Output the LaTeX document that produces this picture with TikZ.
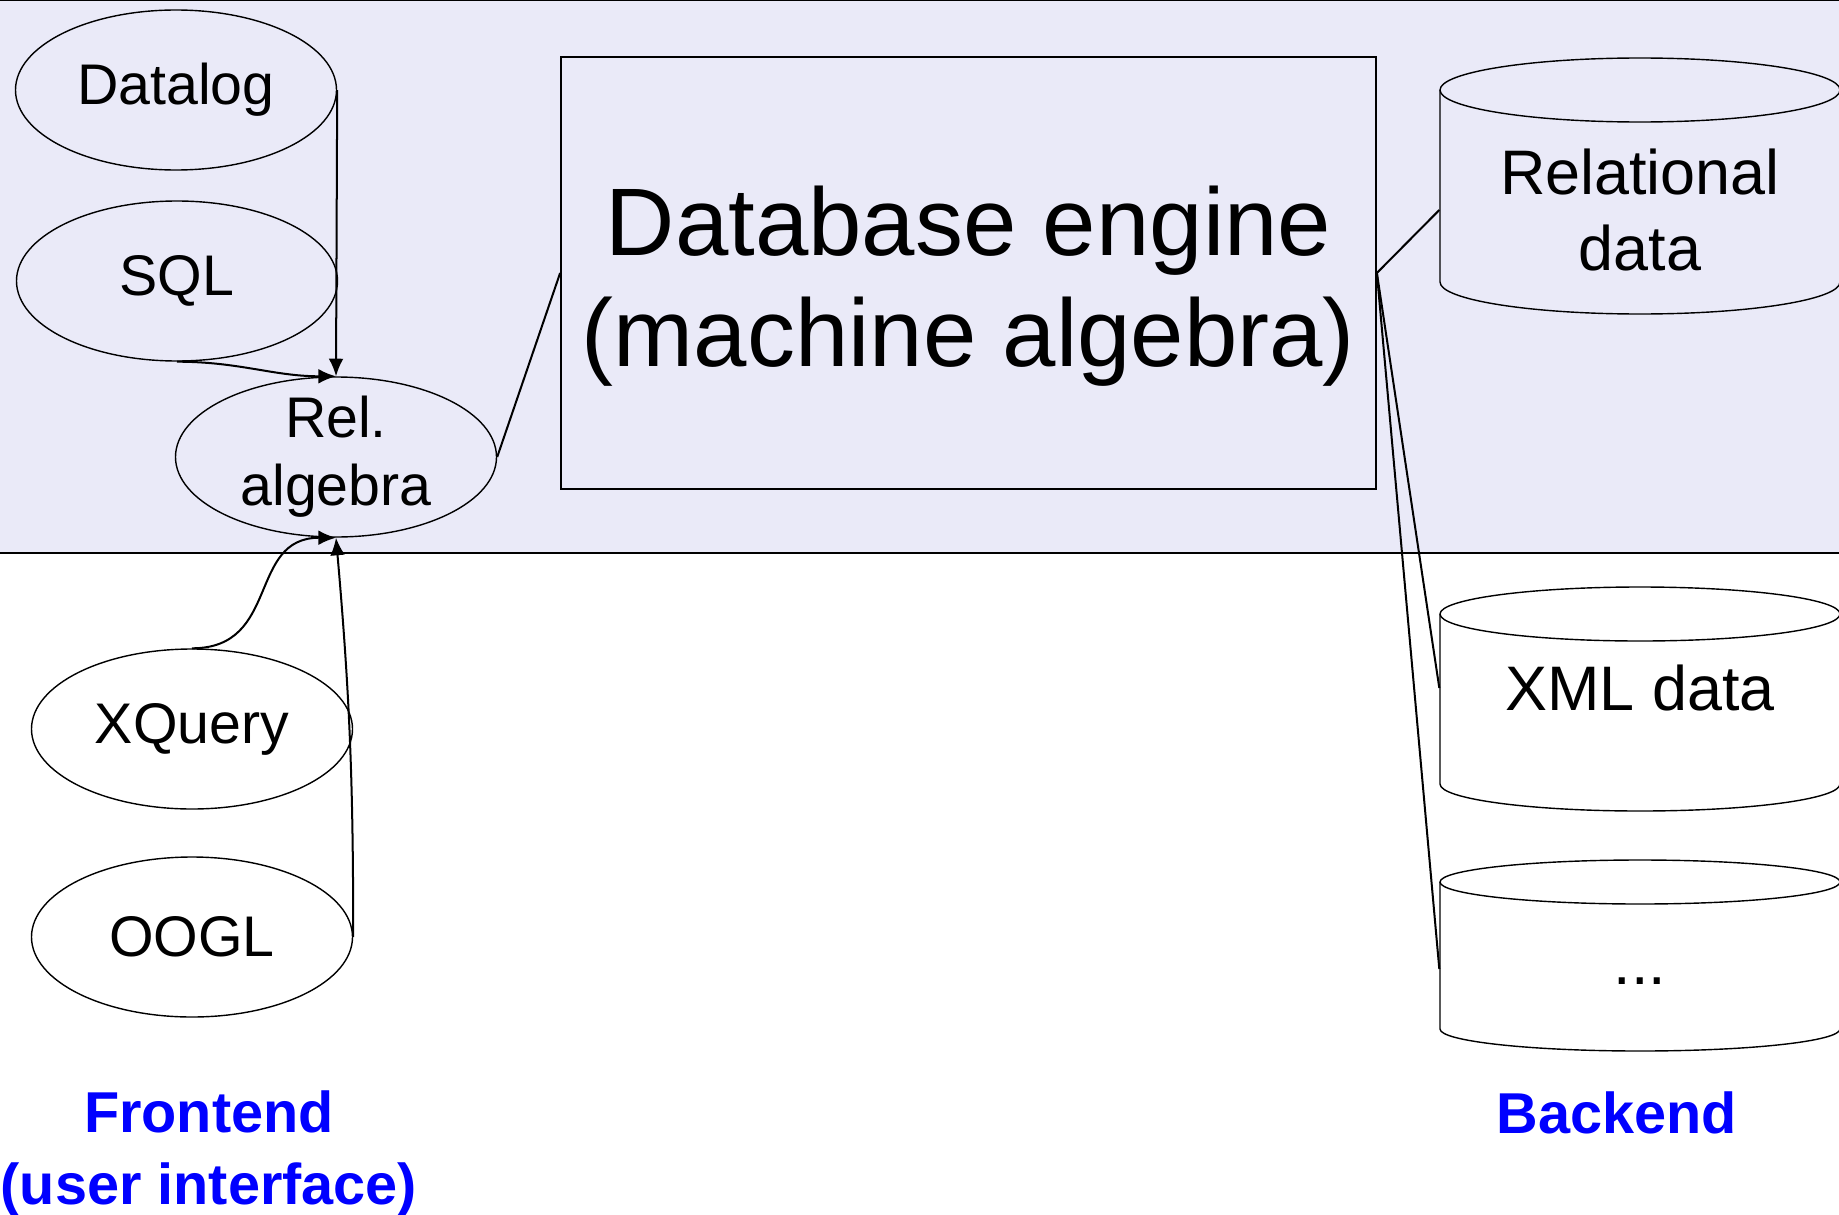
\documentclass[tikz,border=0pt]{standalone}
\usepackage{fontspec}
\setmainfont{Liberation Sans}
\usepackage{tikz}
\usetikzlibrary{arrows.meta}
\usetikzlibrary{shapes}
\usetikzlibrary{positioning}
\definecolor{bandcol}{RGB}{234,234,248}
\definecolor{lblblue}{RGB}{0,0,255}
\tikzset{
  lang_n/.style = {ellipse, draw=black, line width=0.4pt, inner sep=0pt,
    minimum width=3.21cm, minimum height=1.6cm, align=center,
    font=\fontsize{16.3}{19.3}\selectfont},% langage de requete
  eng_n/.style = {rectangle, draw=black, line width=0.5pt,
    minimum width=8.15cm, minimum height=4.32cm},% moteur
  eng_t/.style = {align=center, font=\fontsize{27.3}{31.6}\selectfont},% texte du moteur
  db_t/.style = {inner sep=0pt, minimum width=4cm, align=center,
    font=\fontsize{17.9}{21.6}\selectfont},% texte du cylindre
  side_l/.style = {align=center, text=lblblue,
    font=\fontsize{16.4}{20.5}\selectfont\bfseries},% frontend, backend
  link/.style = {line width=0.57pt},
  feed/.style = {link, -{Latex[length=5pt,width=4.2pt]}}
}
\newcommand{\dbdrum}[4]{% centre x, haut, bas, rayon y
  \draw[line width=0.4pt] ({#1-2},#2) -- ({#1-2},#3)
    arc[start angle=180,end angle=360,x radius=2,y radius=#4] -- ({#1+2},#2);
  \draw[line width=0.4pt] (#1,#2) ellipse[x radius=2,y radius=#4];
}

\begin{document}
\begin{tikzpicture}
\useasboundingbox (0,0) rectangle (18.39,12.14);
\fill[bandcol] (0,6.61) rectangle (18.39,12.14);
\draw[line width=0.4pt] (0,12.14) -- (18.39,12.14);
\draw[line width=0.4pt] (0,6.61) -- (18.39,6.61);

\node [lang_n] (datalog) at (1.76,11.24) {Datalog};
\node [lang_n] (sql) at (1.77,9.33) {SQL};
\node [lang_n, inner ysep=-0.2cm] (relalg) at (3.36,7.57) {Rel.\\algebra};
\node [lang_n] (xquery) at (1.92,4.85) {XQuery};
\node [lang_n] (oogl) at (1.92,2.77) {OOGL};

\node [eng_n] (engine) at (9.685,9.41) {};
\node [eng_t] (engine_t) at ([yshift=-0.13cm]engine.center) {Database engine\\(machine algebra)};

\dbdrum{16.40}{11.24}{9.32}{0.32}
\dbdrum{16.40}{6.00}{4.30}{0.27}
\dbdrum{16.40}{3.32}{1.85}{0.22}
\node [db_t] (reldb) at (16.40,10.04) {Relational\\data};
\node [db_t] (xmldb) at (16.40,5.26) {XML data};
\node [db_t] (moredb) at (16.40,2.45) {\strut...};

\node [side_l] (front) at (2.09,0.60) {Frontend\\(user interface)};
\node [side_l, anchor=base] (back) at (16.17,0.81) {Backend};

\draw[feed] (datalog.east) -- (relalg.north);
\draw[feed] (sql.south) to[out=0,in=180] (relalg.north);
\draw[feed] (xquery.north) to[out=0,in=180,looseness=1.25] (relalg.south);
\draw[feed] (oogl.east) to[out=90,in=-85] (relalg.south);
\draw[link] (relalg.east) -- (engine.west);
\draw[link] (engine.east) -- (reldb.west);
\draw[link] (engine.east) -- (xmldb.west);
\draw[link] (engine.east) -- (moredb.west);
\end{tikzpicture}
\end{document}
